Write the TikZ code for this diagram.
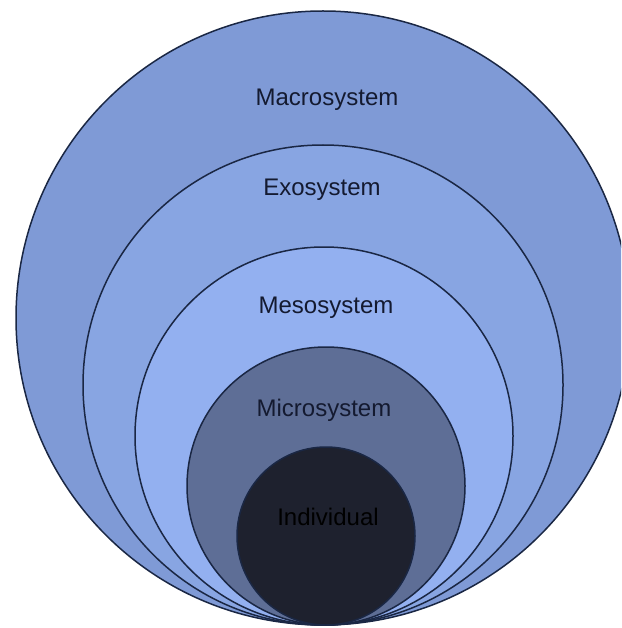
\documentclass[tikz,border=0pt]{standalone}
\usepackage{fontspec}
\setmainfont{Liberation Sans}
\definecolor{ringline}{HTML}{1A2744}
\definecolor{macrofill}{HTML}{7F9AD6}
\definecolor{exofill}{HTML}{88A5E2}
\definecolor{mesofill}{HTML}{93B0F0}
\definecolor{microfill}{HTML}{5E6E96}
\definecolor{indivfill}{HTML}{1E212E}
\definecolor{labeltext}{HTML}{141A30}
\begin{document}
\begin{tikzpicture}[x=1pt,y=-1pt,
  ring/.style={draw=ringline, line width=1.5pt},
  ringlabel/.style={text=labeltext, font=\fontsize{24}{28}\selectfont, inner sep=0pt}]
  \useasboundingbox (0,0) rectangle (621,628);
  \fill[white] (0,0) rectangle (621,628);
  \clip (0,0) rectangle (621,628);
  % nested circles, all touching at the bottom point
  \node[ring, fill=macrofill, circle, minimum size=614pt, inner sep=0pt] (macro) at (323,318) {};
  \node[ring, fill=exofill, circle, minimum size=480pt, inner sep=0pt] (exo) at (323,385) {};
  \node[ring, fill=mesofill, circle, minimum size=378pt, inner sep=0pt] (meso) at (324,436) {};
  \node[ring, fill=microfill, circle, minimum size=278pt, inner sep=0pt] (micro) at (326,486) {};
  \node[ring, fill=indivfill, circle, minimum size=178pt, inner sep=0pt] (indiv) at (326,536) {};
  % labels
  \node[ringlabel] (lmacro) at (327,100) {Macrosystem};
  \node[ringlabel] (lexo) at (322,190) {Exosystem};
  \node[ringlabel] (lmeso) at (326,308) {Mesosystem};
  \node[ringlabel] (lmicro) at (324,410) {Microsystem};
  \node[ringlabel, text=black] (lindiv) at (328,517) {Individual};
\end{tikzpicture}
\end{document}
